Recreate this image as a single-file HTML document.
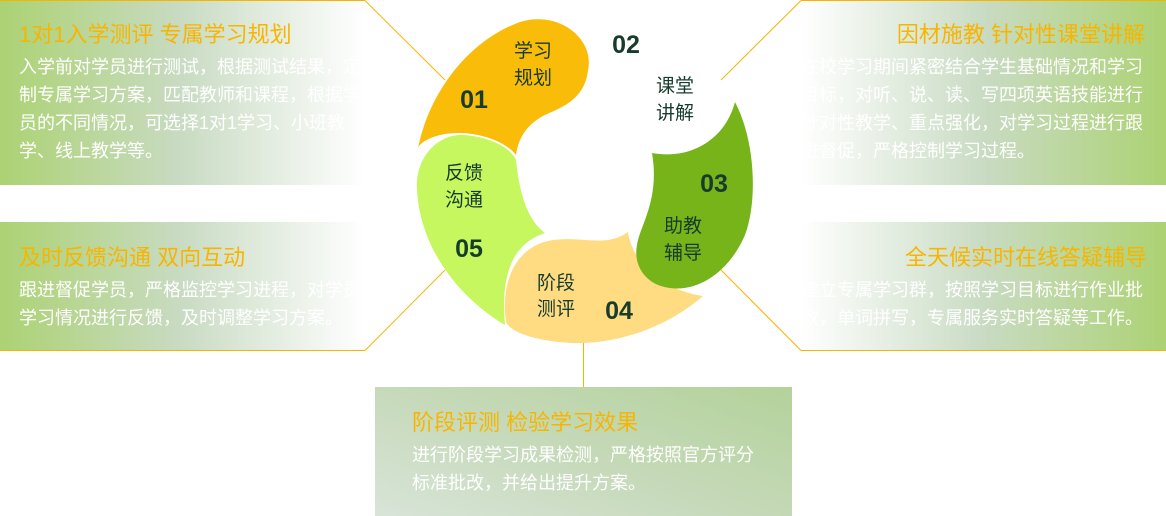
<!DOCTYPE html>
<html><head><meta charset="utf-8"><style>
body{margin:0;width:1166px;height:516px;position:relative;overflow:hidden;background:#fff;font-family:"Liberation Sans","Noto Sans CJK SC",sans-serif}
.p{position:absolute;box-sizing:border-box}
.l{background:linear-gradient(90deg,#acd273 0%,#c9dbc3 50%,#ffffff 100%)}
.r{background:linear-gradient(270deg,#acd273 0%,#c9dbc3 50%,#ffffff 100%)}
.t{color:#f7b500;font-size:22px;line-height:26px;white-space:nowrap}
.b{color:#fff;font-size:18px;line-height:28px}
</style></head><body>
<div class="p l" style="left:0;top:0;width:365px;height:185px;border-top:1px solid #f7b500;padding:21px 0 0 19px">
<div class="t">1对1入学测评 专属学习规划</div>
<div class="b" style="width:344px;margin-top:5px">入学前对学员进行测试，根据测试结果，定制专属学习方案，匹配教师和课程，根据学员的不同情况，可选择1对1学习、小班教学、线上教学等。</div></div>
<div class="p l" style="left:0;top:222px;width:365px;height:129px;border-bottom:1px solid #f7b500;padding:23px 0 0 19px">
<div class="t">及时反馈沟通 双向互动</div>
<div class="b" style="width:344px;margin-top:5px">跟进督促学员，严格监控学习进程，对学员学习情况进行反馈，及时调整学习方案。</div></div>
<div class="p r" style="left:801px;top:0;width:365px;height:185px;border-top:1px solid #f7b500;padding:21px 21px 0 0;text-align:right">
<div class="t">因材施教 针对性课堂讲解</div>
<div class="b" style="width:344px;margin-top:5px;text-align:left">在校学习期间紧密结合学生基础情况和学习目标，对听、说、读、写四项英语技能进行针对性教学、重点强化，对学习过程进行跟进督促，严格控制学习过程。</div></div>
<div class="p r" style="left:801px;top:222px;width:365px;height:129px;border-bottom:1px solid #f7b500;padding:23px 19px 0 0;text-align:right">
<div class="t">全天候实时在线答疑辅导</div>
<div class="b" style="width:344px;margin-top:5px;text-align:left">建立专属学习群，按照学习目标进行作业批改，单词拼写，专属服务实时答疑等工作。</div></div>
<div class="p" style="left:375px;top:387px;width:417px;height:129px;background:linear-gradient(20deg,#d8e4d8 0%,#c5d9b8 50%,#b3d29a 100%);padding:23px 0 0 37px">
<div class="t">阶段评测 检验学习效果</div>
<div class="b" style="margin-top:5px;width:344px">进行阶段学习成果检测，严格按照官方评分标准批改，并给出提升方案。</div></div>
<svg class="p" style="left:0;top:0" width="1166" height="516" viewBox="0 0 1166 516">
<g stroke="#f7b500" stroke-width="1" fill="none">
<line x1="365" y1="0.5" x2="445" y2="80"/><line x1="365" y1="350.5" x2="445" y2="270"/>
<line x1="801" y1="0.5" x2="721" y2="80"/><line x1="801" y1="350.5" x2="721" y2="270"/>
<line x1="583.5" y1="340" x2="583.5" y2="387"/></g>
<path fill="#f9bc08" d="M418,148 C430,90 470,40 520,22 C560,10 595,40 588,70 C585,100 560,108 545,115 C525,125 518,140 516,155 C505,140 470,128 440,135 C428,138 420,143 418,148 Z"/>
<path fill="#c6f75e" d="M516,160 C520,200 530,222 545,233 C515,243 500,270 505,325 C455,295 420,245 417,190 C415,155 440,133 465,135 C495,138 512,150 516,160 Z"/>
<path fill="#ffdc82" d="M506,322 C500,275 520,245 553,240 C585,236 605,248 628,232 C632,262 662,290 703,296 C670,325 620,345 570,343 C535,341 510,332 506,322 Z"/>
<path fill="#76b41a" d="M652,153 C690,160 725,140 735,102 C755,140 758,200 745,235 C730,270 700,292 670,288 C645,285 633,265 637,245 C640,225 660,200 652,153 Z"/>
<g font-family="Liberation Sans,Noto Sans CJK SC,sans-serif" fill="#173b2c" font-size="19" text-anchor="middle">
<text x="533" y="57">学习</text><text x="533" y="84">规划</text>
<text x="675" y="92">课堂</text><text x="675" y="119">讲解</text>
<text x="683" y="232">助教</text><text x="683" y="259">辅导</text>
<text x="556" y="289">阶段</text><text x="556" y="315">测评</text>
<text x="464" y="179">反馈</text><text x="464" y="206">沟通</text>
<g font-size="25" font-weight="bold">
<text x="474" y="108">01</text><text x="626" y="53">02</text><text x="714" y="192">03</text><text x="619" y="319">04</text><text x="469" y="257">05</text></g></g>
</svg>
</body></html>
